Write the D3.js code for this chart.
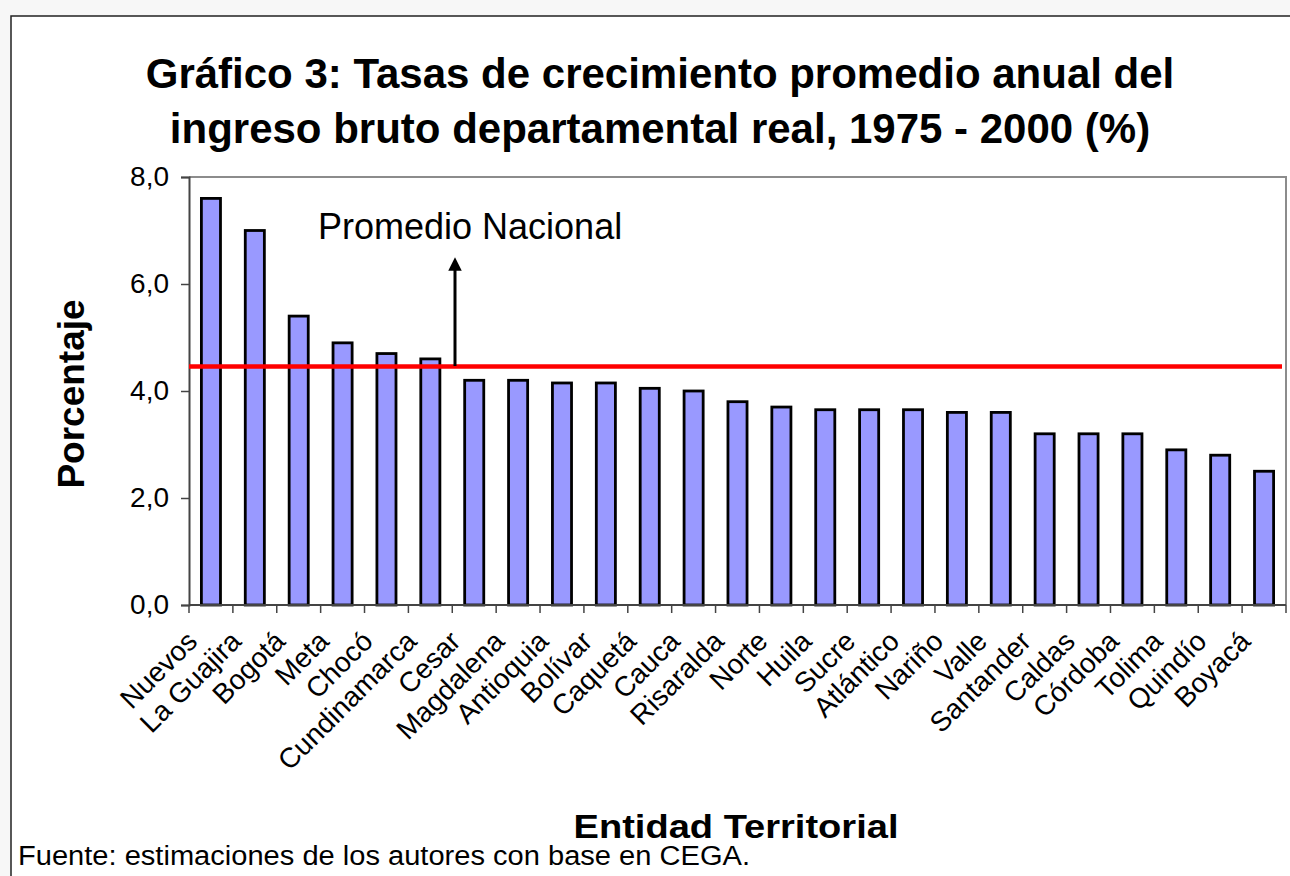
<!DOCTYPE html>
<html>
<head>
<meta charset="utf-8">
<script src="https://cdn.jsdelivr.net/npm/d3@7"></script>
<style>
  body { margin: 0; background: #f7f7f7; }
  svg { display: block; font-family: "Liberation Sans", Arial, sans-serif; }
</style>
</head>
<body>
<svg id="chart" width="1290" height="876"></svg>
<script>
// datos
const departments = ['Nuevos', 'La Guajira', 'Bogotá', 'Meta', 'Chocó', 'Cundinamarca', 'Cesar',
  'Magdalena', 'Antioquia', 'Bolívar', 'Caquetá', 'Cauca', 'Risaralda', 'Norte', 'Huila', 'Sucre',
  'Atlántico', 'Nariño', 'Valle', 'Santander', 'Caldas', 'Córdoba', 'Tolima', 'Quindío', 'Boyacá'];
const growth = [7.6, 7.0, 5.4, 4.9, 4.7, 4.6, 4.2, 4.2, 4.15, 4.15, 4.05, 4.0, 3.8, 3.7, 3.65, 3.65,
  3.65, 3.6, 3.6, 3.2, 3.2, 3.2, 2.9, 2.8, 2.5];
const nationalAvg = 4.46;
const yTicks = [0, 2, 4, 6, 8];
const titleLines = ['Gráfico 3: Tasas de crecimiento promedio anual del',
  'ingreso bruto departamental real, 1975 - 2000 (%)'];

const svg = d3.select('#chart');
const margin = { top: 177, right: 4, bottom: 271, left: 189 };
const width = 1290 - margin.left - margin.right;
const height = 876 - margin.top - margin.bottom;

// recuadro exterior
svg.append('rect')
  .attr('x', 11).attr('y', 16)
  .attr('width', 1290).attr('height', 880)
  .attr('fill', '#fff')
  .attr('stroke', '#222')
  .attr('stroke-width', 1.5);

const fmt = v => d3.format('.1f')(v).replace('.', ',');

const x = d3.scaleBand()
  .domain(departments)
  .range([0, width])
  .paddingInner(0.565)
  .paddingOuter(0.2825);
const y = d3.scaleLinear().domain([0, 8]).range([height, 0]);

const g = svg.append('g').attr('transform', `translate(${margin.left},${margin.top})`);

// borde del área de trazado
g.append('path')
  .attr('d', `M0,0H${width}V${height}`)
  .attr('fill', 'none')
  .attr('stroke', '#8c8c8c')
  .attr('stroke-width', 2);

g.selectAll('rect.bar')
  .data(growth)
  .enter()
  .append('rect')
  .attr('class', 'bar')
  .attr('x', (d, i) => x(departments[i]))
  .attr('y', d => y(d))
  .attr('width', x.bandwidth())
  .attr('height', d => height - y(d))
  .attr('fill', '#9999ff')
  .attr('stroke', '#000')
  .attr('stroke-width', 2.8);

// eje y
const yAxis = g.append('g')
  .call(d3.axisLeft(y).tickValues(yTicks).tickFormat(fmt).tickSize(8).tickPadding(12));
yAxis.select('.domain').attr('stroke', '#444').attr('stroke-width', 2);
yAxis.selectAll('.tick line').attr('stroke', '#444').attr('stroke-width', 1.5);
yAxis.selectAll('.tick text')
  .attr('font-size', 28)
  .attr('fill', '#000')
  .attr('font-family', '"Liberation Sans", Arial, sans-serif');

// eje x: marcas en los límites de cada categoría
const bounds = d3.range(departments.length + 1).map(i => i * x.step());
g.append('line')
  .attr('x1', 0).attr('x2', width)
  .attr('y1', height).attr('y2', height)
  .attr('stroke', '#444').attr('stroke-width', 2);
g.selectAll('line.xtick')
  .data(bounds)
  .enter()
  .append('line')
  .attr('class', 'xtick')
  .attr('x1', d => d).attr('x2', d => d)
  .attr('y1', height).attr('y2', height + 8)
  .attr('stroke', '#444').attr('stroke-width', 1.5);

g.selectAll('text.xlabel')
  .data(departments)
  .enter()
  .append('text')
  .attr('class', 'xlabel')
  .attr('text-anchor', 'end')
  .attr('font-size', 28)
  .attr('transform', d => `translate(${x(d) + x.bandwidth() / 2 - 12},${height + 38}) rotate(-45)`)
  .text(d => d);

// promedio nacional
g.append('line')
  .attr('x1', 0).attr('x2', width - 4)
  .attr('y1', y(nationalAvg)).attr('y2', y(nationalAvg))
  .attr('stroke', '#ff0000')
  .attr('stroke-width', 4.5);

svg.append('defs').append('marker')
  .attr('id', 'arrow')
  .attr('viewBox', '0 0 10 10')
  .attr('refX', 5).attr('refY', 5)
  .attr('markerWidth', 4.5).attr('markerHeight', 4.5)
  .attr('orient', 'auto')
  .append('path')
  .attr('d', 'M0,0L10,5L0,10z')
  .attr('fill', '#000');
svg.append('line')
  .attr('x1', 455).attr('x2', 455)
  .attr('y1', 366).attr('y2', 264)
  .attr('stroke', '#000')
  .attr('stroke-width', 3)
  .attr('marker-end', 'url(#arrow)');
svg.append('text')
  .attr('x', 318).attr('y', 239)
  .attr('font-size', 36)
  .text('Promedio Nacional');

// titulo
svg.selectAll('text.title')
  .data(titleLines)
  .enter()
  .append('text')
  .attr('class', 'title')
  .attr('x', 660)
  .attr('y', (d, i) => 88 + i * 55)
  .attr('text-anchor', 'middle')
  .attr('font-size', 42)
  .attr('font-weight', 'bold')
  .text(d => d);

svg.append('text')
  .attr('transform', 'translate(84,394) rotate(-90)')
  .attr('text-anchor', 'middle')
  .attr('font-size', 37)
  .attr('font-weight', 'bold')
  .text('Porcentaje');

svg.append('text')
  .attr('x', 736).attr('y', 838)
  .attr('text-anchor', 'middle')
  .attr('font-size', 34)
  .attr('font-weight', 'bold')
  .attr('textLength', 325)
  .attr('lengthAdjust', 'spacingAndGlyphs')
  .text('Entidad Territorial');

svg.append('text')
  .attr('x', 18).attr('y', 865)
  .attr('font-size', 27)
  .attr('textLength', 732)
  .attr('lengthAdjust', 'spacingAndGlyphs')
  .text('Fuente: estimaciones de los autores con base en CEGA.');
</script>
</body>
</html>
